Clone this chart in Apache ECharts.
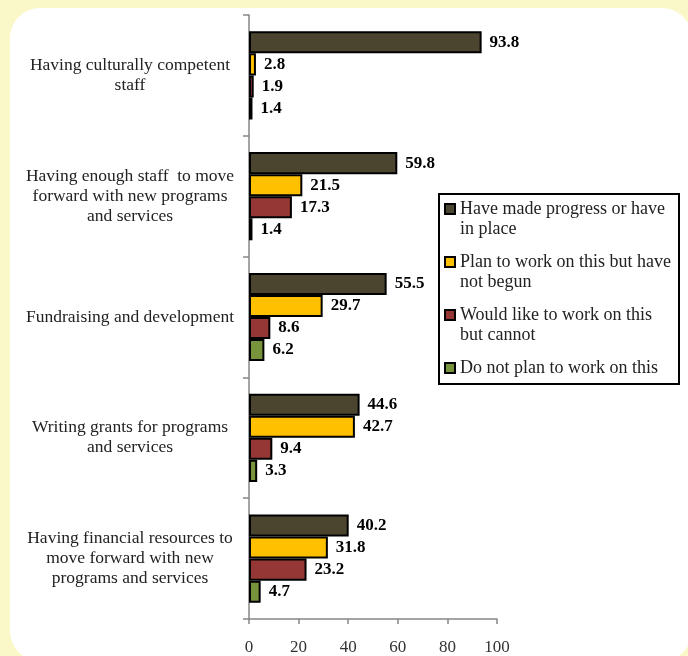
<!DOCTYPE html>
<html>
<head>
<meta charset="utf-8">
<script src="https://cdn.jsdelivr.net/npm/echarts@6/dist/echarts.min.js"></script>
<style>
  html, body { margin: 0; padding: 0; background: #FAF7C8; }
  #chart { width: 688px; height: 656px; }
</style>
</head>
<body>
<div id="chart"></div>
<script>
// Survey items, listed top to bottom
const categories = [
  'Having culturally competent\nstaff',
  'Having enough staff  to move\nforward with new programs\nand services',
  'Fundraising and development',
  'Writing grants for programs\nand services',
  'Having financial resources to\nmove forward with new\nprograms and services'
];

const seriesNames = [
  'Have made progress or have in place',
  'Plan to work on this but have not begun',
  'Would like to work on this but cannot',
  'Do not plan to work on this'
];

// Wrapped legend text for each series
const legendText = {
  'Have made progress or have in place': 'Have made progress or have\nin place',
  'Plan to work on this but have not begun': 'Plan to work on this but have\nnot begun',
  'Would like to work on this but cannot': 'Would like to work on this\nbut cannot',
  'Do not plan to work on this': 'Do not plan to work on this\n '
};

const madeProgress = [93.8, 59.8, 55.5, 44.6, 40.2];
const planToWork   = [2.8, 21.5, 29.7, 42.7, 31.8];
const wouldLike    = [1.9, 17.3, 8.6, 9.4, 23.2];
const doNotPlan    = [1.4, 1.4, 6.2, 3.3, 4.7];

const xTicks = [0, 20, 40, 60, 80, 100];

const colors = ['#4B4530', '#FFC000', '#953735', '#77933C'];
const font = '"Liberation Serif", "Times New Roman", serif';

const chart = echarts.init(document.getElementById('chart'));

function barSeries(name, values, color) {
  return {
    name: name,
    type: 'bar',
    data: values,
    barGap: '0%',
    barCategoryGap: '27%',
    itemStyle: { color: color, borderColor: '#000', borderWidth: 2 },
    label: {
      show: true,
      position: 'right',
      distance: 8,
      fontFamily: font,
      fontWeight: 'bold',
      fontSize: 17,
      color: '#000',
      formatter: p => p.value.toFixed(1)
    }
  };
}

chart.setOption({
  backgroundColor: '#FAF7C8',
  animation: false,
  graphic: [
    {
      type: 'rect',
      left: 10, top: 8,
      shape: { width: 682, height: 653, r: 30 },
      style: { fill: '#FFFFFF' },
      z: -10
    },
    {
      type: 'rect',
      left: 438, top: 193,
      shape: { width: 240, height: 190 },
      style: { fill: '#FFFFFF', stroke: '#000', lineWidth: 2 },
      z: 5
    }
  ],
  grid: { left: 249, right: 191, top: 15, bottom: 36, containLabel: false },
  legend: {
    data: seriesNames,
    orient: 'vertical',
    left: 444,
    top: 198,
    padding: 0,
    itemWidth: 10,
    itemHeight: 41,
    itemGap: 10,
    icon: 'path://M0,0M0,5h10v10h-10zM0,41',
    z: 6,
    formatter: name => legendText[name],
    textStyle: { fontFamily: font, fontSize: 18, lineHeight: 20.5, color: '#222' }
  },
  xAxis: {
    type: 'value',
    min: xTicks[0],
    max: xTicks[xTicks.length - 1],
    interval: xTicks[1] - xTicks[0],
    splitLine: { show: false },
    axisLine: { show: true, lineStyle: { color: '#868686', width: 1.5 } },
    axisTick: { show: true, length: 5, lineStyle: { color: '#868686', width: 1.5 } },
    axisLabel: { fontFamily: font, fontSize: 17, color: '#333', margin: 20 }
  },
  yAxis: {
    type: 'category',
    data: categories,
    inverse: true,
    axisLine: { show: true, lineStyle: { color: '#868686', width: 1.5 } },
    axisTick: { show: true, length: 6, lineStyle: { color: '#868686', width: 1.5 } },
    axisLabel: {
      fontFamily: font, fontSize: 17.5, lineHeight: 20, color: '#222',
      align: 'center', margin: 119
    }
  },
  series: [
    barSeries(seriesNames[0], madeProgress, colors[0]),
    barSeries(seriesNames[1], planToWork, colors[1]),
    barSeries(seriesNames[2], wouldLike, colors[2]),
    barSeries(seriesNames[3], doNotPlan, colors[3])
  ]
});
</script>
</body>
</html>
